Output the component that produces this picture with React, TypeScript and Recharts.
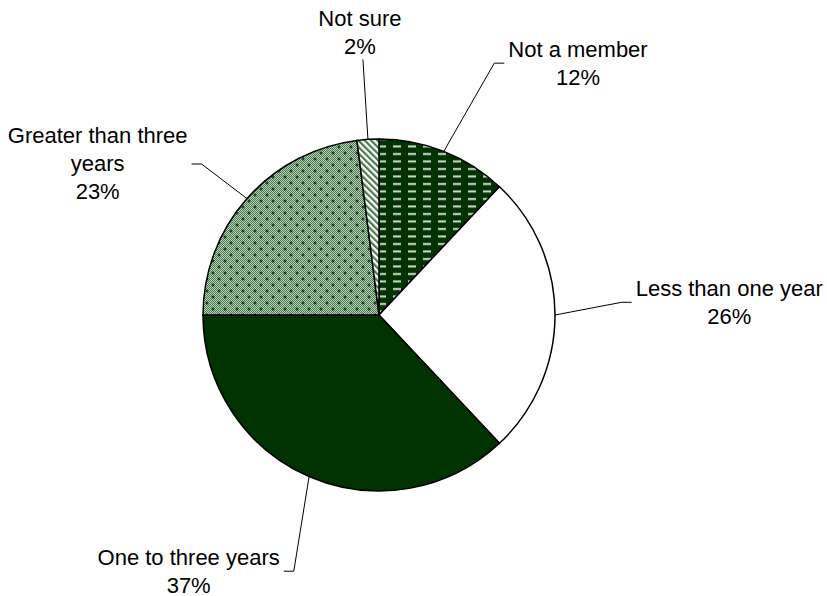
import React from "react";
import { PieChart, Pie, Cell } from "recharts";

const categories = [
  "Not a member",
  "Less than one year",
  "One to three years",
  "Greater than three years",
  "Not sure",
];
const shares = [12, 26, 37, 23, 2];
const fills = [
  "url(#dashGreen)",
  "#ffffff",
  "#003300",
  "url(#dotGreen)",
  "url(#stripeGreen)",
];

// where each leader line bends: distance from centre, and turn away from slice middle (deg)
const labelReach = [277, 243, 270, 233, 256];
const labelTurn = [-3, 3, 5, 1, 0];

const data = categories.map((name, i) => ({ name, value: shares[i] }));

const FONT = "'Liberation Sans', Arial, sans-serif";
const FONT_SIZE = 22;
const LINE_GAP = 28;
const RAD = Math.PI / 180;

let ctx: CanvasRenderingContext2D | null = null;
const measure = (s: string) => {
  if (!ctx) {
    ctx = document.createElement("canvas").getContext("2d");
    if (ctx) ctx.font = `${FONT_SIZE}px ${FONT}`;
  }
  return ctx ? ctx.measureText(s).width : s.length * FONT_SIZE * 0.5;
};

const wrap = (s: string, max: number) => {
  const lines: string[] = [];
  let cur = "";
  s.split(" ").forEach((w) => {
    const next = cur ? cur + " " + w : w;
    if (cur && measure(next) > max) {
      lines.push(cur);
      cur = w;
    } else cur = next;
  });
  if (cur) lines.push(cur);
  return lines;
};

const renderLabel = (props: any) => {
  const { cx, cy, midAngle, outerRadius, index, name, percent } = props;
  const sx = cx + outerRadius * Math.cos(-midAngle * RAD);
  const sy = cy + outerRadius * Math.sin(-midAngle * RAD);
  const a = midAngle + labelTurn[index];
  const ex = cx + labelReach[index] * Math.cos(-a * RAD);
  const ey = cy + labelReach[index] * Math.sin(-a * RAD);
  const lines = [...wrap(name, 200), `${Math.round(percent * 100)}%`];
  const blockW = Math.max(...lines.map(measure));
  const c = Math.cos(a * RAD);

  let path = `M${sx},${sy}L${ex},${ey}`;
  let tx = ex;
  let firstY = ey - ((lines.length - 1) * LINE_GAP) / 2;
  if (c > 0.3) {
    path += `L${ex + 10},${ey}`;
    tx = ex + 14 + blockW / 2;
  } else if (c < -0.3) {
    path += `L${ex - 10},${ey}`;
    tx = ex - 14 - blockW / 2;
  } else if (Math.sin(a * RAD) > 0) {
    tx = ex - 3;
    firstY = ey - 13 - (lines.length - 1) * LINE_GAP;
  } else {
    tx = ex;
    firstY = ey + 13;
  }

  return (
    <g key={`lbl-${index}`}>
      <path d={path} stroke="#000" strokeWidth={1} fill="none" />
      {lines.map((l, i) => (
        <text
          key={i}
          x={tx}
          y={firstY + i * LINE_GAP}
          textAnchor="middle"
          dominantBaseline="central"
          fontFamily={FONT}
          fontSize={FONT_SIZE}
          fill="#000"
        >
          {l}
        </text>
      ))}
    </g>
  );
};

// fine two-tone checker used under the plus marks
const checker: { x: number; y: number }[] = [];
for (let y = 0; y < 12; y++) {
  for (let x = 0; x < 12; x++) {
    if ((x + y) % 2 === 0) checker.push({ x, y });
  }
}

export default function App() {
  return (
    <div style={{ position: "absolute", left: 0, top: 0, background: "#fff" }}>
      <PieChart width={827} height={596} margin={{ top: 0, right: 0, bottom: 0, left: 0 }}>
        <defs>
          <pattern id="dashGreen" width="15" height="7.5" patternUnits="userSpaceOnUse">
            <rect width="15" height="7.5" fill="#003300" />
            <rect x="3" y="3" width="8" height="2" fill="#d4dcd4" />
          </pattern>
          <pattern id="dotGreen" width="12" height="12" patternUnits="userSpaceOnUse">
            <rect width="12" height="12" fill="#c0d2c0" />
            {checker.map((p, i) => (
              <rect key={i} x={p.x} y={p.y} width="1" height="1" fill="#44744a" />
            ))}
            <path d="M3,1.5V4.5M1.5,3H4.5M9,7.5V10.5M7.5,9H10.5" stroke="#003300" strokeWidth="1.2" />
          </pattern>
          <pattern
            id="stripeGreen"
            width="4.5"
            height="4.5"
            patternUnits="userSpaceOnUse"
            patternTransform="rotate(-45)"
          >
            <rect width="4.5" height="4.5" fill="#ffffff" />
            <rect width="2.2" height="4.5" fill="#4a7a4a" />
          </pattern>
        </defs>
        <Pie
          data={data}
          dataKey="value"
          nameKey="name"
          cx={379}
          cy={315}
          outerRadius={176}
          startAngle={90}
          endAngle={-270}
          stroke="#000"
          strokeWidth={1.5}
          label={renderLabel}
          labelLine={false}
          isAnimationActive={false}
        >
          {data.map((d, i) => (
            <Cell key={d.name} fill={fills[i]} />
          ))}
        </Pie>
      </PieChart>
    </div>
  );
}
